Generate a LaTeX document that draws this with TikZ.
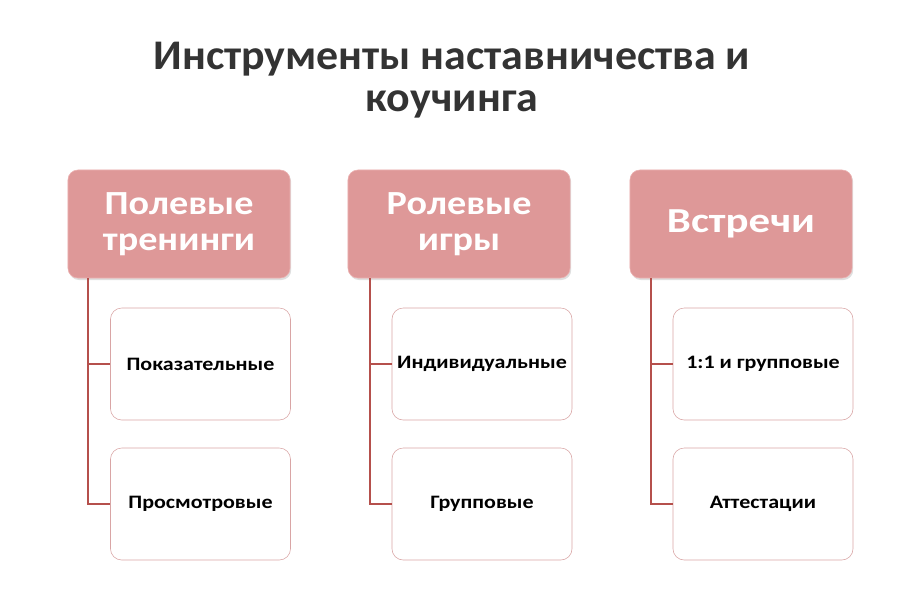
\documentclass[tikz,border=0pt]{standalone}
\usepackage{fontspec}
\setmainfont{Carlito}
\newfontfamily\titlefont{Carlito}[FakeStretch=1.04]
\newfontfamily\hdrfont{Carlito}[FakeStretch=1.13]
\newfontfamily\bighdrfont{Carlito}[FakeStretch=1.22]
\newfontfamily\itemfont{Carlito}[FakeStretch=1.16]
\usetikzlibrary{shadows}
\definecolor{hdrfill}{HTML}{DE9898}
\definecolor{hdrline}{HTML}{EBB0B0}
\definecolor{boxline}{HTML}{D9A5A5}
\definecolor{connred}{HTML}{B5504C}
\definecolor{titlegray}{HTML}{333333}
\tikzset{
  hdr/.style={draw=hdrline,fill=hdrfill,rounded corners=7pt,minimum width=5.55cm,
    minimum height=2.7cm,align=center,text=white,
    font=\hdrfont\bfseries\fontsize{24}{26}\selectfont,
    drop shadow={opacity=0.25,shadow xshift=0.03cm,shadow yshift=-0.05cm}},
  item/.style={draw=boxline,fill=white,rounded corners=8pt,minimum width=4.5cm,
    minimum height=2.8cm,inner xsep=1pt,align=center,text=black,
    font=\itemfont\bfseries\fontsize{13.5}{15}\selectfont},
  conn/.style={draw=connred,line width=1.2pt}
}
\begin{document}
\begin{tikzpicture}[x=0.025cm,y=-0.025cm]
    \useasboundingbox (0,0) rectangle (910,608);
    %% title
    \node[align=center,text=titlegray,font=\titlefont\bfseries\fontsize{30}{30}\selectfont] (title) at (452,80)
        {Инструменты наставничества и\\коучинга};
    %% headers
    \node[hdr] (h1) at (179,224) {Полевые\\тренинги};
    \node[hdr] (h2) at (459,224) {Ролевые\\игры};
    \node[hdr,font=\bighdrfont\bfseries\fontsize{25}{26}\selectfont] (h3) at (741,224) {Встречи};
    %% items
    \node[item] (a1) at (200.5,364) {Показательные};
    \node[item] (a2) at (200.5,504) {Просмотровые};
    \node[item] (b1) at (482,364) {Индивидуальные};
    \node[item] (b2) at (482,504) {Групповые};
    \node[item] (c1) at (763,364) {1:1 и групповые};
    \node[item] (c2) at (763,504) {Аттестации};
    %% connectors
    \coordinate (ta) at (88,278);
    \coordinate (tb) at (370,278);
    \coordinate (tc) at (651,278);
    \draw[conn] (ta) |- (a1.west);
    \draw[conn] (ta) |- (a2.west);
    \draw[conn] (tb) |- (b1.west);
    \draw[conn] (tb) |- (b2.west);
    \draw[conn] (tc) |- (c1.west);
    \draw[conn] (tc) |- (c2.west);
\end{tikzpicture}
\end{document}
